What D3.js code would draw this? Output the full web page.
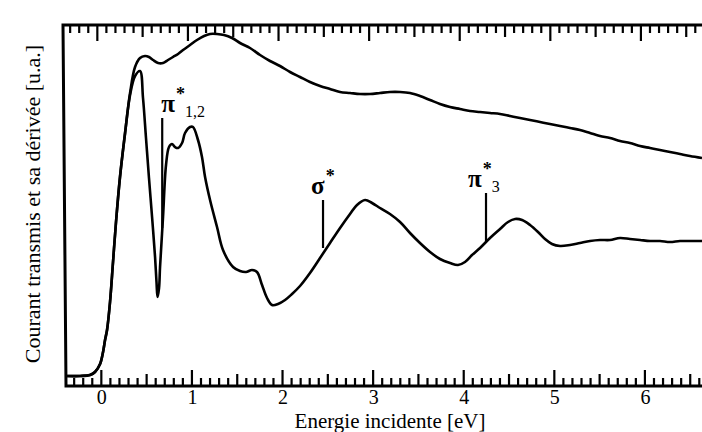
<!DOCTYPE html>
<html>
<head>
<meta charset="utf-8">
<script src="https://cdn.jsdelivr.net/npm/d3@7"></script>
<style>
  html, body { margin: 0; padding: 0; background: #fff; }
  svg { display: block; }
  text { font-family: "Liberation Serif", "Times New Roman", serif; fill: #000; }
</style>
</head>
<body>
<svg id="chart" width="702" height="432"></svg>
<script>
// ---------- data (energy in eV, signals in arbitrary units) ----------
const energyCourant = [-0.379,-0.235,-0.125,-0.07,-0.014,0.019,0.041,0.063,0.096,0.129,0.162,0.206,0.262,0.317,0.372,0.427,0.482,0.526,0.571,0.626,0.681,0.736,0.791,0.847,0.902,0.979,1.056,1.134,1.2,1.277,1.354,1.443,1.531,1.641,1.752,1.862,1.972,2.083,2.193,2.303,2.414,2.524,2.635,2.745,2.855,2.966,3.076,3.186,3.297,3.407,3.517,3.628,3.738,3.849,3.959,4.069,4.18,4.29,4.401,4.511,4.621,4.732,4.842,4.952,5.063,5.173,5.283,5.394,5.504,5.615,5.725,5.835,5.946,6.056,6.166,6.277,6.387,6.497,6.63];
const courant = [10,10,11,14,22,34,46,56,84,124,164,209,253,293,319,328,330,329,326,323,323,326,329,332,336,341,346,350,352,352,351,348,343,338,331,325,320,314,309,304,300,297,294,293,292,292,293,294,294,293,290,286,282,279,277,275,274,273,272,270,268,266,264,262,260,258,256,253,250,248,245,243,240,238,236,234,232,230,228];

const energyDerivee = [-0.379,-0.235,-0.125,-0.07,-0.014,0.019,0.041,0.063,0.096,0.129,0.162,0.206,0.262,0.317,0.372,0.427,0.46,0.493,0.526,0.56,0.593,0.609,0.62,0.637,0.648,0.681,0.714,0.747,0.78,0.813,0.847,0.891,0.924,0.979,1.012,1.067,1.111,1.145,1.2,1.277,1.343,1.454,1.531,1.597,1.663,1.718,1.774,1.829,1.884,1.95,2.028,2.105,2.193,2.303,2.414,2.524,2.635,2.745,2.822,2.911,2.988,3.076,3.186,3.297,3.407,3.517,3.628,3.738,3.849,3.937,4.014,4.092,4.18,4.29,4.401,4.489,4.567,4.644,4.732,4.82,4.897,4.974,5.063,5.173,5.283,5.394,5.504,5.615,5.725,5.835,5.946,6.056,6.166,6.277,6.387,6.497,6.63];
const derivee = [10,10,11,14,22,34,46,56,84,124,164,209,253,291,310,315,288,248,208,169,129,104,89,98,119,169,221,239,242,239,238,243,253,259,259,246,229,209,186,159,136,119,115,114,116,114,101,88,81,82,86,92,100,113,128,143,158,172,181,186,183,178,172,164,153,143,134,127,123,121,124,131,138,148,157,164,167,166,161,154,147,142,140,141,143,145,146,146,148,147,146,145,145,144,145,145,145];

const majorTicks = [0, 1, 2, 3, 4, 5, 6];
const majorTickLabels = ["0", "1", "2", "3", "4", "5", "6"];

const markerNames = ["π", "σ", "π"];
const markerSubs = ["1,2", "", "3"];
const markerEnergy = [0.672, 2.447, 4.246];
const markerTop = [268, 186, 193];
const markerBottom = [158, 138, 144];

const xTitle = "Energie incidente [eV]";
const yTitle = "Courant transmis et sa dérivée [u.a.]";

// ---------- layout ----------
const svg = d3.select("#chart");
const L = 65, R = 702, T = 25, B = 386;
const x = d3.scaleLinear().domain([-0.39, 6.63]).range([66, 702]);
const xTop = d3.scaleLinear().domain([-0.39, 6.63]).range([62, 698]);
const y = d3.scaleLinear().domain([0, 361]).range([B, T]);

// frame
svg.append("path")
  .attr("d", `M${R},${T} L${L-2},${T} L${L+1},${B} L${R},${B}`)
  .attr("fill", "none").attr("stroke", "#000").attr("stroke-width", 3)
  .attr("stroke-linejoin", "miter");

// ruler ticks every 0.1 eV: long at integers, medium at halves, short otherwise
const rulerTicks = d3.range(-3, 67).map(k => ({ v: k / 10, k }));
function tickLen(k) {
  const m = ((k % 10) + 10) % 10;
  return m === 0 ? 16 : (m === 5 ? 12 : 8);
}
const ticksG = svg.append("g").attr("stroke", "#000").attr("stroke-width", 2.2);
ticksG.selectAll("line.bt").data(rulerTicks).join("line").attr("class", "bt")
  .attr("x1", d => x(d.v)).attr("x2", d => x(d.v))
  .attr("y1", B).attr("y2", d => B - tickLen(d.k));
ticksG.selectAll("line.tt").data(rulerTicks).join("line").attr("class", "tt")
  .attr("x1", d => xTop(d.v)).attr("x2", d => xTop(d.v))
  .attr("y1", T).attr("y2", d => T + tickLen(d.k));

// labelled major axis (labels only, ticks drawn above)
const gxb = svg.append("g").attr("transform", `translate(0,${B})`)
  .call(d3.axisBottom(x).tickValues(majorTicks).tickSize(0).tickPadding(4)
    .tickFormat((d, i) => majorTickLabels[i]));
gxb.select(".domain").remove();
gxb.selectAll("text").attr("font-size", 20).attr("font-family", "Liberation Serif").attr("fill", "#000");

// curves
svg.append("clipPath").attr("id", "clip").append("rect")
  .attr("x", L).attr("y", T).attr("width", R - L).attr("height", B - T);

const lineGen = d3.line().x(d => x(d[0])).y(d => y(d[1])).curve(d3.curveCatmullRom.alpha(0.5));
svg.append("path")
  .datum(energyCourant.map((e, i) => [e, courant[i]]))
  .attr("clip-path", "url(#clip)")
  .attr("d", lineGen).attr("fill", "none").attr("stroke", "#000").attr("stroke-width", 2.6)
  .attr("stroke-linejoin", "round");
svg.append("path")
  .datum(energyDerivee.map((e, i) => [e, derivee[i]]))
  .attr("clip-path", "url(#clip)")
  .attr("d", lineGen).attr("fill", "none").attr("stroke", "#000").attr("stroke-width", 2.6)
  .attr("stroke-linejoin", "round");

// markers
markerEnergy.forEach((e, i) => {
  const px = x(e);
  svg.append("line")
    .attr("x1", px).attr("x2", px)
    .attr("y1", y(markerTop[i])).attr("y2", y(markerBottom[i]))
    .attr("stroke", "#000").attr("stroke-width", 2.2);
  const tx = i === 0 ? px - 1 : (i === 1 ? px - 12 : px - 18);
  const t = svg.append("text")
    .attr("x", tx).attr("y", y(markerTop[i]) - 6);
  t.append("tspan").attr("font-size", 25).attr("font-weight", "bold").text(markerNames[i]);
  t.append("tspan").attr("font-size", 18).attr("font-weight", "bold").attr("dy", -12).attr("dx", 1).text("*");
  if (markerSubs[i]) {
    t.append("tspan").attr("font-size", 16).attr("dy", 17).text(markerSubs[i]);
  }
});

// titles
svg.append("text").attr("x", 390).attr("y", 427.5).attr("text-anchor", "middle")
  .attr("font-size", 21).text(xTitle);
svg.append("text").attr("transform", "translate(40,204) rotate(-90)").attr("text-anchor", "middle")
  .attr("font-size", 22).text(yTitle);
</script>
</body>
</html>
